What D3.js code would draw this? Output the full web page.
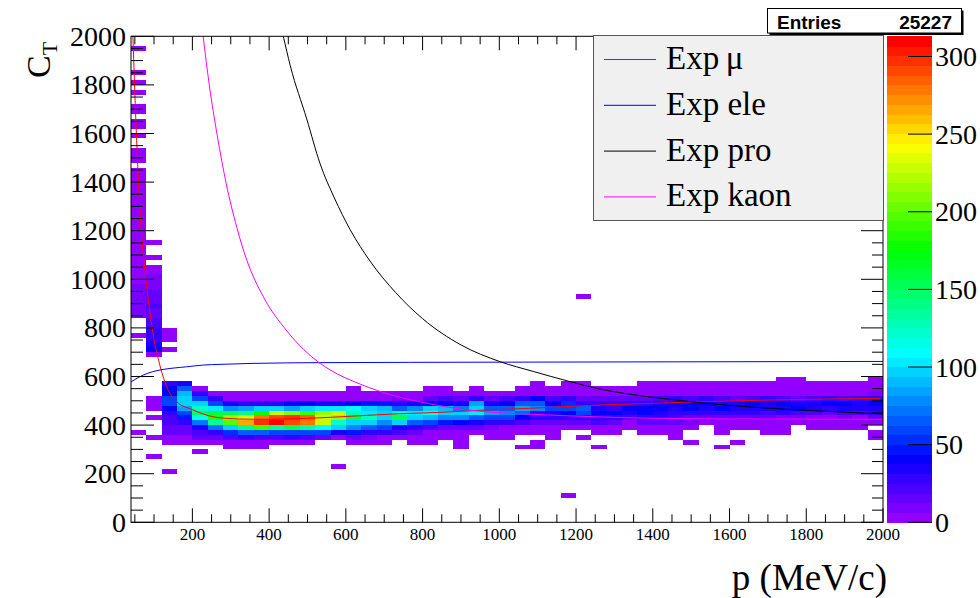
<!DOCTYPE html>
<html>
<head>
<meta charset="utf-8">
<script src="https://cdn.jsdelivr.net/npm/d3@7"></script>
<style>
  body { margin: 0; background: #fff; }
  svg { display: block; }
</style>
</head>
<body>
<svg id="chart" width="980" height="598"></svg>
<script>
// ---------------- data ----------------
const entries = 25227;
const pBinWidth = 40;   // MeV/c
const ctBinWidth = 20;  // C_T units

// Histogram cells, one run per p column:
// [p lower edge, C_T lower edge of the first cell, counts of consecutive C_T bins upward]
const cellRuns = [
  [40, 360, [3]],
  [40, 760, [2]],
  [40, 840, [8,9,8,10,9,7,8,6,5,6,5,4,3,5,3,4,3,3,3,4,3,3,3,2,3,3,2,3,2,2,2,0,2,2,2]],
  [40, 1580, [2,0,2,3,0,2,2,0,0,2,0,2,0,2,0,0,0,0,2]],
  [80, 260, [2,0,0,0,2,0,0,0,2,0,3,4,3]],
  [80, 680, [5,42,36,31,27,31,22,22,18,18,22,18,13,13,10,8,8,6,2,0,2,0,0,2]],
  [120, 200, [2]],
  [120, 320, [3,5,13,13,22,22,31,42,58,58,42,42,31]],
  [120, 700, [3,0,3,4,3]],
  [160, 320, [3,5,18,18,27,50,62,85,98,98,89,67,36]],
  [200, 280, [2,0,5,13,22,36,75,115,145,125,95,60,25,5]],
  [240, 320, [5,18,31,72,136,185,160,102,62,27,5]],
  [280, 300, [3,5,22,54,98,198,217,152,76,36,5,3]],
  [320, 300, [3,6,27,67,143,266,227,143,85,31,6,3]],
  [360, 300, [3,5,22,67,188,299,280,180,94,27,4,3]],
  [400, 320, [5,22,58,143,313,290,227,98,31,5,3]],
  [440, 320, [5,27,58,152,290,299,207,85,42,5,3]],
  [480, 320, [4,22,62,136,280,285,188,94,42,6,3]],
  [520, 340, [18,62,108,227,227,217,102,36,5,3]],
  [560, 220, [2]],
  [560, 340, [6,36,94,120,217,227,102,36,5,3]],
  [600, 320, [4,18,50,76,94,152,128,108,42,6,4,3]],
  [640, 320, [4,7,31,67,94,128,102,98,50,6,4]],
  [680, 320, [3,6,27,58,76,94,98,89,50,6,4]],
  [720, 340, [5,22,36,94,152,120,67,31,8,3]],
  [760, 320, [3,4,13,27,67,98,102,76,36,6,3]],
  [800, 320, [3,4,6,22,62,89,108,94,42,18,5,3]],
  [840, 340, [3,5,18,50,76,98,89,42,22,5,3]],
  [880, 300, [2,3,4,5,18,42,76,94,72,36,18,4]],
  [920, 360, [4,13,36,67,102,94,85,31,5,3]],
  [960, 340, [3,4,8,27,58,85,67,36,18,4]],
  [1000, 340, [3,4,5,27,58,76,67,42,22,4]],
  [1040, 300, [2,0,0,3,5,22,42,67,85,67,27,5,3]],
  [1080, 300, [2,2,0,3,5,18,31,31,76,67,42,6,4,3]],
  [1120, 340, [2,3,5,18,27,36,58,42,22,6,4]],
  [1160, 100, [2]],
  [1160, 380, [5,18,31,42,62,54,27,6,4,3]],
  [1200, 340, [2,0,4,18,31,58,67,31,18,5,4,3]],
  [1200, 920, [2]],
  [1240, 300, [2,0,0,3,5,22,27,42,36,31,13,5,3]],
  [1280, 360, [3,5,18,27,42,31,27,18,5,3]],
  [1320, 380, [4,6,22,36,42,27,13,5,3]],
  [1360, 360, [3,4,18,27,42,42,31,18,5,4,3]],
  [1400, 360, [3,4,13,27,36,42,36,22,5,4,3]],
  [1440, 340, [2,3,4,13,22,31,36,42,27,6,4,3]],
  [1480, 320, [2,0,0,4,8,18,27,42,42,22,6,4,3]],
  [1520, 400, [6,18,27,36,42,27,5,4,3]],
  [1560, 300, [2,0,0,2,3,5,13,27,42,36,22,6,4,3]],
  [1600, 320, [2,0,0,3,5,13,31,36,36,18,5,4,3]],
  [1640, 380, [3,4,13,27,36,42,22,6,4,3]],
  [1680, 360, [2,3,5,13,22,36,36,27,6,4,3]],
  [1720, 360, [2,3,4,8,27,36,42,22,5,4,3,3]],
  [1760, 400, [4,8,22,42,36,18,5,4,3,3]],
  [1800, 380, [3,4,6,22,36,36,22,5,4,3]],
  [1840, 380, [2,3,6,18,31,42,27,6,4,3]],
  [1880, 380, [3,4,8,22,36,42,22,5,4,3]],
  [1920, 380, [2,4,6,22,36,36,27,6,4,3]],
  [1960, 340, [2,3,0,4,13,27,36,42,31,8,4,3,3]]
];

// Expected C_T versus p for each particle hypothesis: [p, C_T]
const expMuon = [[45,2000],[53,1640],[59,1420],[65,1240],[76,1040],[88,880],[97,780],[113,660],
  [133,558],[159,496],[198,465],[237,441],[285,428],[360,424],[402,424],[500,428],[619,437],
  [741,447],[840,452],[963,462],[1093,470],[1219,480],[1349,487],[1500,495],[1698,503],[1993,510]];
const expEle = [[40,578],[72,606],[97,620],[124,629],[185,640],[228,647],[272,650],[358,654],
  [533,657],[1000,659],[2000,662]];
const expProton = [[437,2000],[455,1880],[498,1660],[533,1475],[570,1335],[611,1205],[663,1075],
  [730,945],[800,838],[900,730],[1002,661],[1088,621],[1177,582],[1263,548],[1341,527],
  [1445,506],[1524,492],[1650,475],[1785,462],[1900,453],[2000,446]];
const expKaon = [[228,2000],[244,1800],[265,1590],[288,1395],[316,1212],[342,1078],[385,928],
  [446,788],[533,654],[559,627],[637,569],[728,520],[814,489],[903,465],[989,452],[1093,444],
  [1255,434],[1445,427],[1700,425],[2000,424]];

const legendLabels = ["Exp\u2009\u03bc", "Exp ele", "Exp pro", "Exp kaon"];
const curveColors = ["#ff0000", "#0000ff", "#000000", "#ff00ff"];

const pRange = [40, 2000];
const ctRange = [0, 2000];
const xTickValues = [200, 400, 600, 800, 1000, 1200, 1400, 1600, 1800, 2000];
const yTickValues = [0, 200, 400, 600, 800, 1000, 1200, 1400, 1600, 1800, 2000];
const zTickValues = [0, 50, 100, 150, 200, 250, 300];

// ---------------- layout ----------------
const svg = d3.select("#chart");
const frame = { left: 131, right: 883, top: 36.3, bottom: 522.3 };
const x = d3.scaleLinear().domain(pRange).range([frame.left, frame.right]);
const y = d3.scaleLinear().domain(ctRange).range([frame.bottom, frame.top]);

// flatten runs into cells
const cells = [];
cellRuns.forEach(([p0, c0, counts]) => {
  counts.forEach((n, k) => {
    if (n > 0) cells.push({ p: p0, ct: c0 + k * ctBinWidth, n });
  });
});
const zMax = d3.max(cells, d => d.n);

// 50-step violet-to-red palette in HLS
const nColors = 50;
const palette = d3.range(nColors).map(i =>
  d3.hsl(280 - (i + 1) * (280 / nColors), 1, 0.5).formatHex());
const colorOf = n => palette[Math.min(nColors - 1, Math.floor(0.01 + n * nColors / zMax))];

const serif = "'Liberation Serif', 'Times New Roman', serif";

// cells
svg.append("g").selectAll("rect").data(cells).join("rect")
  .attr("x", d => x(d.p))
  .attr("y", d => y(d.ct + ctBinWidth))
  .attr("width", d => x(d.p + pBinWidth) - x(d.p))
  .attr("height", d => y(d.ct) - y(d.ct + ctBinWidth))
  .attr("fill", d => colorOf(d.n))
  .attr("shape-rendering", "crispEdges");

// curves
svg.append("clipPath").attr("id", "plotClip").append("rect")
  .attr("x", frame.left).attr("y", frame.top)
  .attr("width", frame.right - frame.left).attr("height", frame.bottom - frame.top);
const line = d3.line().x(d => x(d[0])).y(d => y(d[1])).curve(d3.curveMonotoneX);
const curveG = svg.append("g").attr("clip-path", "url(#plotClip)");
[expMuon, expEle, expProton, expKaon].forEach((pts, i) => {
  curveG.append("path").attr("d", line(pts))
    .attr("fill", "none").attr("stroke", curveColors[i]).attr("stroke-width", 1);
});

// frame
svg.append("rect")
  .attr("x", frame.left).attr("y", frame.top)
  .attr("width", frame.right - frame.left).attr("height", frame.bottom - frame.top)
  .attr("fill", "none").attr("stroke", "#000").attr("stroke-width", 1);

// ticks on all four sides
const tickG = svg.append("g").attr("stroke", "#000").attr("stroke-width", 1);
const xMinor = d3.range(50, 2001, 50);
xMinor.forEach(v => {
  const major = v % 200 === 0;
  const len = major ? 14 : 8;
  const px = x(v);
  tickG.append("line").attr("x1", px).attr("x2", px).attr("y1", frame.bottom).attr("y2", frame.bottom - len);
  tickG.append("line").attr("x1", px).attr("x2", px).attr("y1", frame.top).attr("y2", frame.top + len);
});
const yMinor = d3.range(0, 2001, 50);
yMinor.forEach(v => {
  const major = v % 200 === 0;
  const py = y(v);
  tickG.append("line").attr("x1", frame.left).attr("x2", frame.left + (major ? 23 : 12)).attr("y1", py).attr("y2", py);
  tickG.append("line").attr("x1", frame.right).attr("x2", frame.right - (major ? 22 : 11)).attr("y1", py).attr("y2", py);
});

// tick labels
svg.append("g").selectAll("text").data(xTickValues).join("text")
  .attr("x", d => x(d)).attr("y", 540)
  .attr("text-anchor", "middle")
  .style("font-family", serif).style("font-size", "17px")
  .text(d => d);
svg.append("g").selectAll("text").data(yTickValues).join("text")
  .attr("x", 126).attr("y", d => y(d) + 9.5)
  .attr("text-anchor", "end")
  .style("font-family", serif).style("font-size", "28px")
  .text(d => d);

// axis titles
svg.append("text")
  .attr("x", 887).attr("y", 590)
  .attr("text-anchor", "end")
  .style("font-family", serif).style("font-size", "37px")
  .text("p (MeV/c)");
const yTitle = svg.append("text")
  .attr("transform", "translate(50,78) rotate(-90)")
  .style("font-family", serif).style("font-size", "34px");
yTitle.append("tspan").text("C");
yTitle.append("tspan").attr("dy", 7).style("font-size", "22px").text("T");

// colour bar
const bar = { left: 887, right: 932 };
const z = d3.scaleLinear().domain([0, zMax]).range([frame.bottom, frame.top]);
svg.append("g").selectAll("rect").data(palette).join("rect")
  .attr("x", bar.left)
  .attr("y", (c, i) => z((i + 1) * zMax / nColors))
  .attr("width", bar.right - bar.left)
  .attr("height", (c, i) => z(i * zMax / nColors) - z((i + 1) * zMax / nColors) + 0.5)
  .attr("fill", c => c)
  .attr("shape-rendering", "crispEdges");
const zg = svg.append("g");
zTickValues.forEach(v => {
  zg.append("line").attr("x1", bar.right).attr("x2", bar.right - 24)
    .attr("y1", z(v)).attr("y2", z(v)).attr("stroke", "#000").attr("stroke-width", 1);
  zg.append("text").attr("x", bar.right + 3).attr("y", z(v) + 9.5)
    .style("font-family", serif).style("font-size", "28px").text(v);
});

// legend
const lg = svg.append("g");
lg.append("rect").attr("x", 593.5).attr("y", 35.5).attr("width", 290).attr("height", 185)
  .attr("fill", "#f0f0f0").attr("stroke", "#555").attr("stroke-width", 1);
legendLabels.forEach((label, i) => {
  const cy = 59.5 + i * 45.8;
  lg.append("line").attr("x1", 604).attr("x2", 656).attr("y1", cy).attr("y2", cy)
    .attr("stroke", curveColors[i]).attr("stroke-width", 1);
  lg.append("text").attr("x", 666).attr("y", cy + 9.5)
    .style("font-family", serif).style("font-size", "33px").text(label);
});

// statistics box
const sb = svg.append("g");
sb.append("rect").attr("x", 769.5).attr("y", 10.5).attr("width", 194).attr("height", 24.5).attr("fill", "#000");
sb.append("rect").attr("x", 767.5).attr("y", 8.5).attr("width", 194).attr("height", 24.5)
  .attr("fill", "#fff").attr("stroke", "#000").attr("stroke-width", 1);
sb.append("text").attr("x", 777).attr("y", 29)
  .style("font-family", "'Liberation Sans', Arial, sans-serif").style("font-weight", "bold").style("font-size", "19px")
  .text("Entries");
sb.append("text").attr("x", 952).attr("y", 29).attr("text-anchor", "end")
  .style("font-family", "'Liberation Sans', Arial, sans-serif").style("font-weight", "bold").style("font-size", "19px")
  .text(entries);
</script>
</body>
</html>
